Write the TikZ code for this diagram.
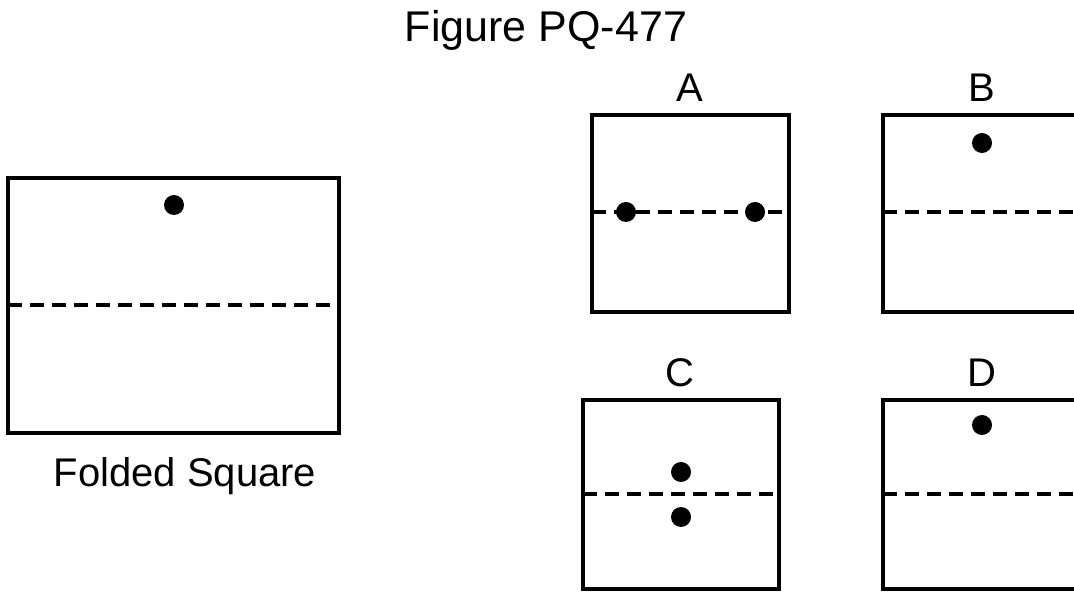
\documentclass[tikz,border=0pt]{standalone}
\usepackage{fontspec}
\setmainfont{Liberation Sans}
\usepackage{tikz}

\tikzset{
  sheet/.style={draw=black,line width=3.5pt},
  fold/.style={draw=black,line width=3.5pt,dash pattern=on 14pt off 8pt},
  hole/.style={fill=black},
  tag/.style={inner sep=0pt,anchor=base,font=\fontsize{40}{48}\selectfont}
}

\begin{document}
\begin{tikzpicture}[x=1pt,y=1pt]
\useasboundingbox (0,0) rectangle (1074,592);
\clip (0,0) rectangle (1074,592);
% texts:
\node[tag,font=\fontsize{43}{51}\selectfont] (title) at (546,550) {Figure PQ-477};
\node[tag] (foldedlabel) at (185,105) {Folded Square};
\node[tag] (labelA) at (690,490) {A};
\node[tag] (labelB) at (982,490) {B};
\node[tag] (labelC) at (680,205) {C};
\node[tag] (labelD) at (982,205) {D};
% folded square:
\path[sheet] (8,159) rectangle (339,414);
\path[fold] (8,287) -- (339,287);
\path[hole] (174,387) circle (10);
% answer A:
\path[sheet] (592,280) rectangle (789,477);
\path[fold] (592,380) -- (789,380);
\path[hole] (626,380) circle (10);
\path[hole] (755,380) circle (10);
% answer B:
\path[sheet] (883,280) rectangle (1080,477);
\path[fold] (883,380) -- (1080,380);
\path[hole] (982,449) circle (10);
% answer C:
\path[sheet] (583,3) rectangle (779,192);
\path[fold] (583,98) -- (779,98);
\path[hole] (681,120) circle (10);
\path[hole] (681,75) circle (10);
% answer D:
\path[sheet] (883,3) rectangle (1080,192);
\path[fold] (883,98) -- (1080,98);
\path[hole] (982,167) circle (10);
\end{tikzpicture}
\end{document}
